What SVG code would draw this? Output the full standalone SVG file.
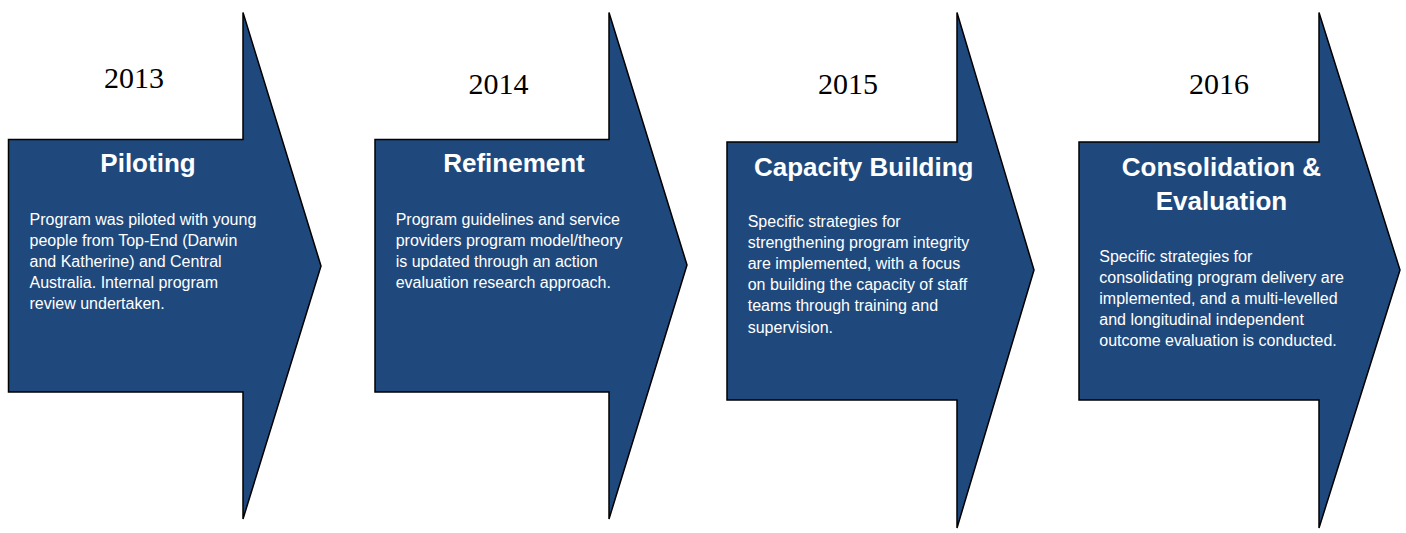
<svg xmlns="http://www.w3.org/2000/svg" width="1406" height="533" viewBox="0 0 1406 533">
<style>
.arrow{fill:#1f497d;stroke:#000;stroke-width:1.5;stroke-linejoin:miter}
.year{font-family:"Liberation Serif",serif;font-size:30px;fill:#000;text-anchor:middle}
.title{font-family:"Liberation Sans",Arial,sans-serif;font-size:26px;font-weight:bold;fill:#fff;text-anchor:middle}
.body{font-family:"Liberation Sans",Arial,sans-serif;font-size:16px;fill:#fff}
</style>
<rect width="1406" height="533" fill="#fff"/>
<g id="node-2013">
<polygon class="arrow" points="8.5,139.5 243,139.5 243,12.5 321,266 243,519 243,392 8.5,392"/>
<text class="year" x="134" y="88">2013</text>
<text class="title" x="148" y="172">Piloting</text>
<text class="body" x="29.5" y="225">Program was piloted with young</text>
<text class="body" x="29.5" y="246.1">people from Top-End (Darwin</text>
<text class="body" x="29.5" y="267.2">and Katherine) and Central</text>
<text class="body" x="29.5" y="288.3">Australia. Internal program</text>
<text class="body" x="29.5" y="309.4">review undertaken.</text>
</g>
<g id="node-2014">
<polygon class="arrow" points="375,139.5 609,139.5 609,12.5 687,265 609,519 609,392 375,392"/>
<text class="year" x="498.5" y="94">2014</text>
<text class="title" x="514" y="172">Refinement</text>
<text class="body" x="395.7" y="225">Program guidelines and service</text>
<text class="body" x="395.7" y="246.1">providers program model/theory</text>
<text class="body" x="395.7" y="267.2">is updated through an action</text>
<text class="body" x="395.7" y="288.3">evaluation research approach.</text>
</g>
<g id="node-2015">
<polygon class="arrow" points="727,142 957,142 957,12.5 1034,270 957,528 957,400 727,400"/>
<text class="year" x="848" y="94">2015</text>
<text class="title" x="863.7" y="176">Capacity Building</text>
<text class="body" x="747.7" y="227">Specific strategies for</text>
<text class="body" x="747.7" y="248.1">strengthening program integrity</text>
<text class="body" x="747.7" y="269.2">are implemented, with a focus</text>
<text class="body" x="747.7" y="290.3">on building the capacity of staff</text>
<text class="body" x="747.7" y="311.4">teams through training and</text>
<text class="body" x="747.7" y="332.5">supervision.</text>
</g>
<g id="node-2016">
<polygon class="arrow" points="1079,142 1319,142 1319,12.5 1400,270 1319,528 1319,400 1079,400"/>
<text class="year" x="1219" y="94">2016</text>
<text class="title" x="1221.5" y="175.5">Consolidation &amp;</text>
<text class="title" x="1221.5" y="210">Evaluation</text>
<text class="body" x="1099.3" y="261.5">Specific strategies for</text>
<text class="body" x="1099.3" y="282.6">consolidating program delivery are</text>
<text class="body" x="1099.3" y="303.7">implemented, and a multi-levelled</text>
<text class="body" x="1099.3" y="324.8">and longitudinal independent</text>
<text class="body" x="1099.3" y="345.9">outcome evaluation is conducted.</text>
</g>
<g id="connectors"></g>
</svg>
